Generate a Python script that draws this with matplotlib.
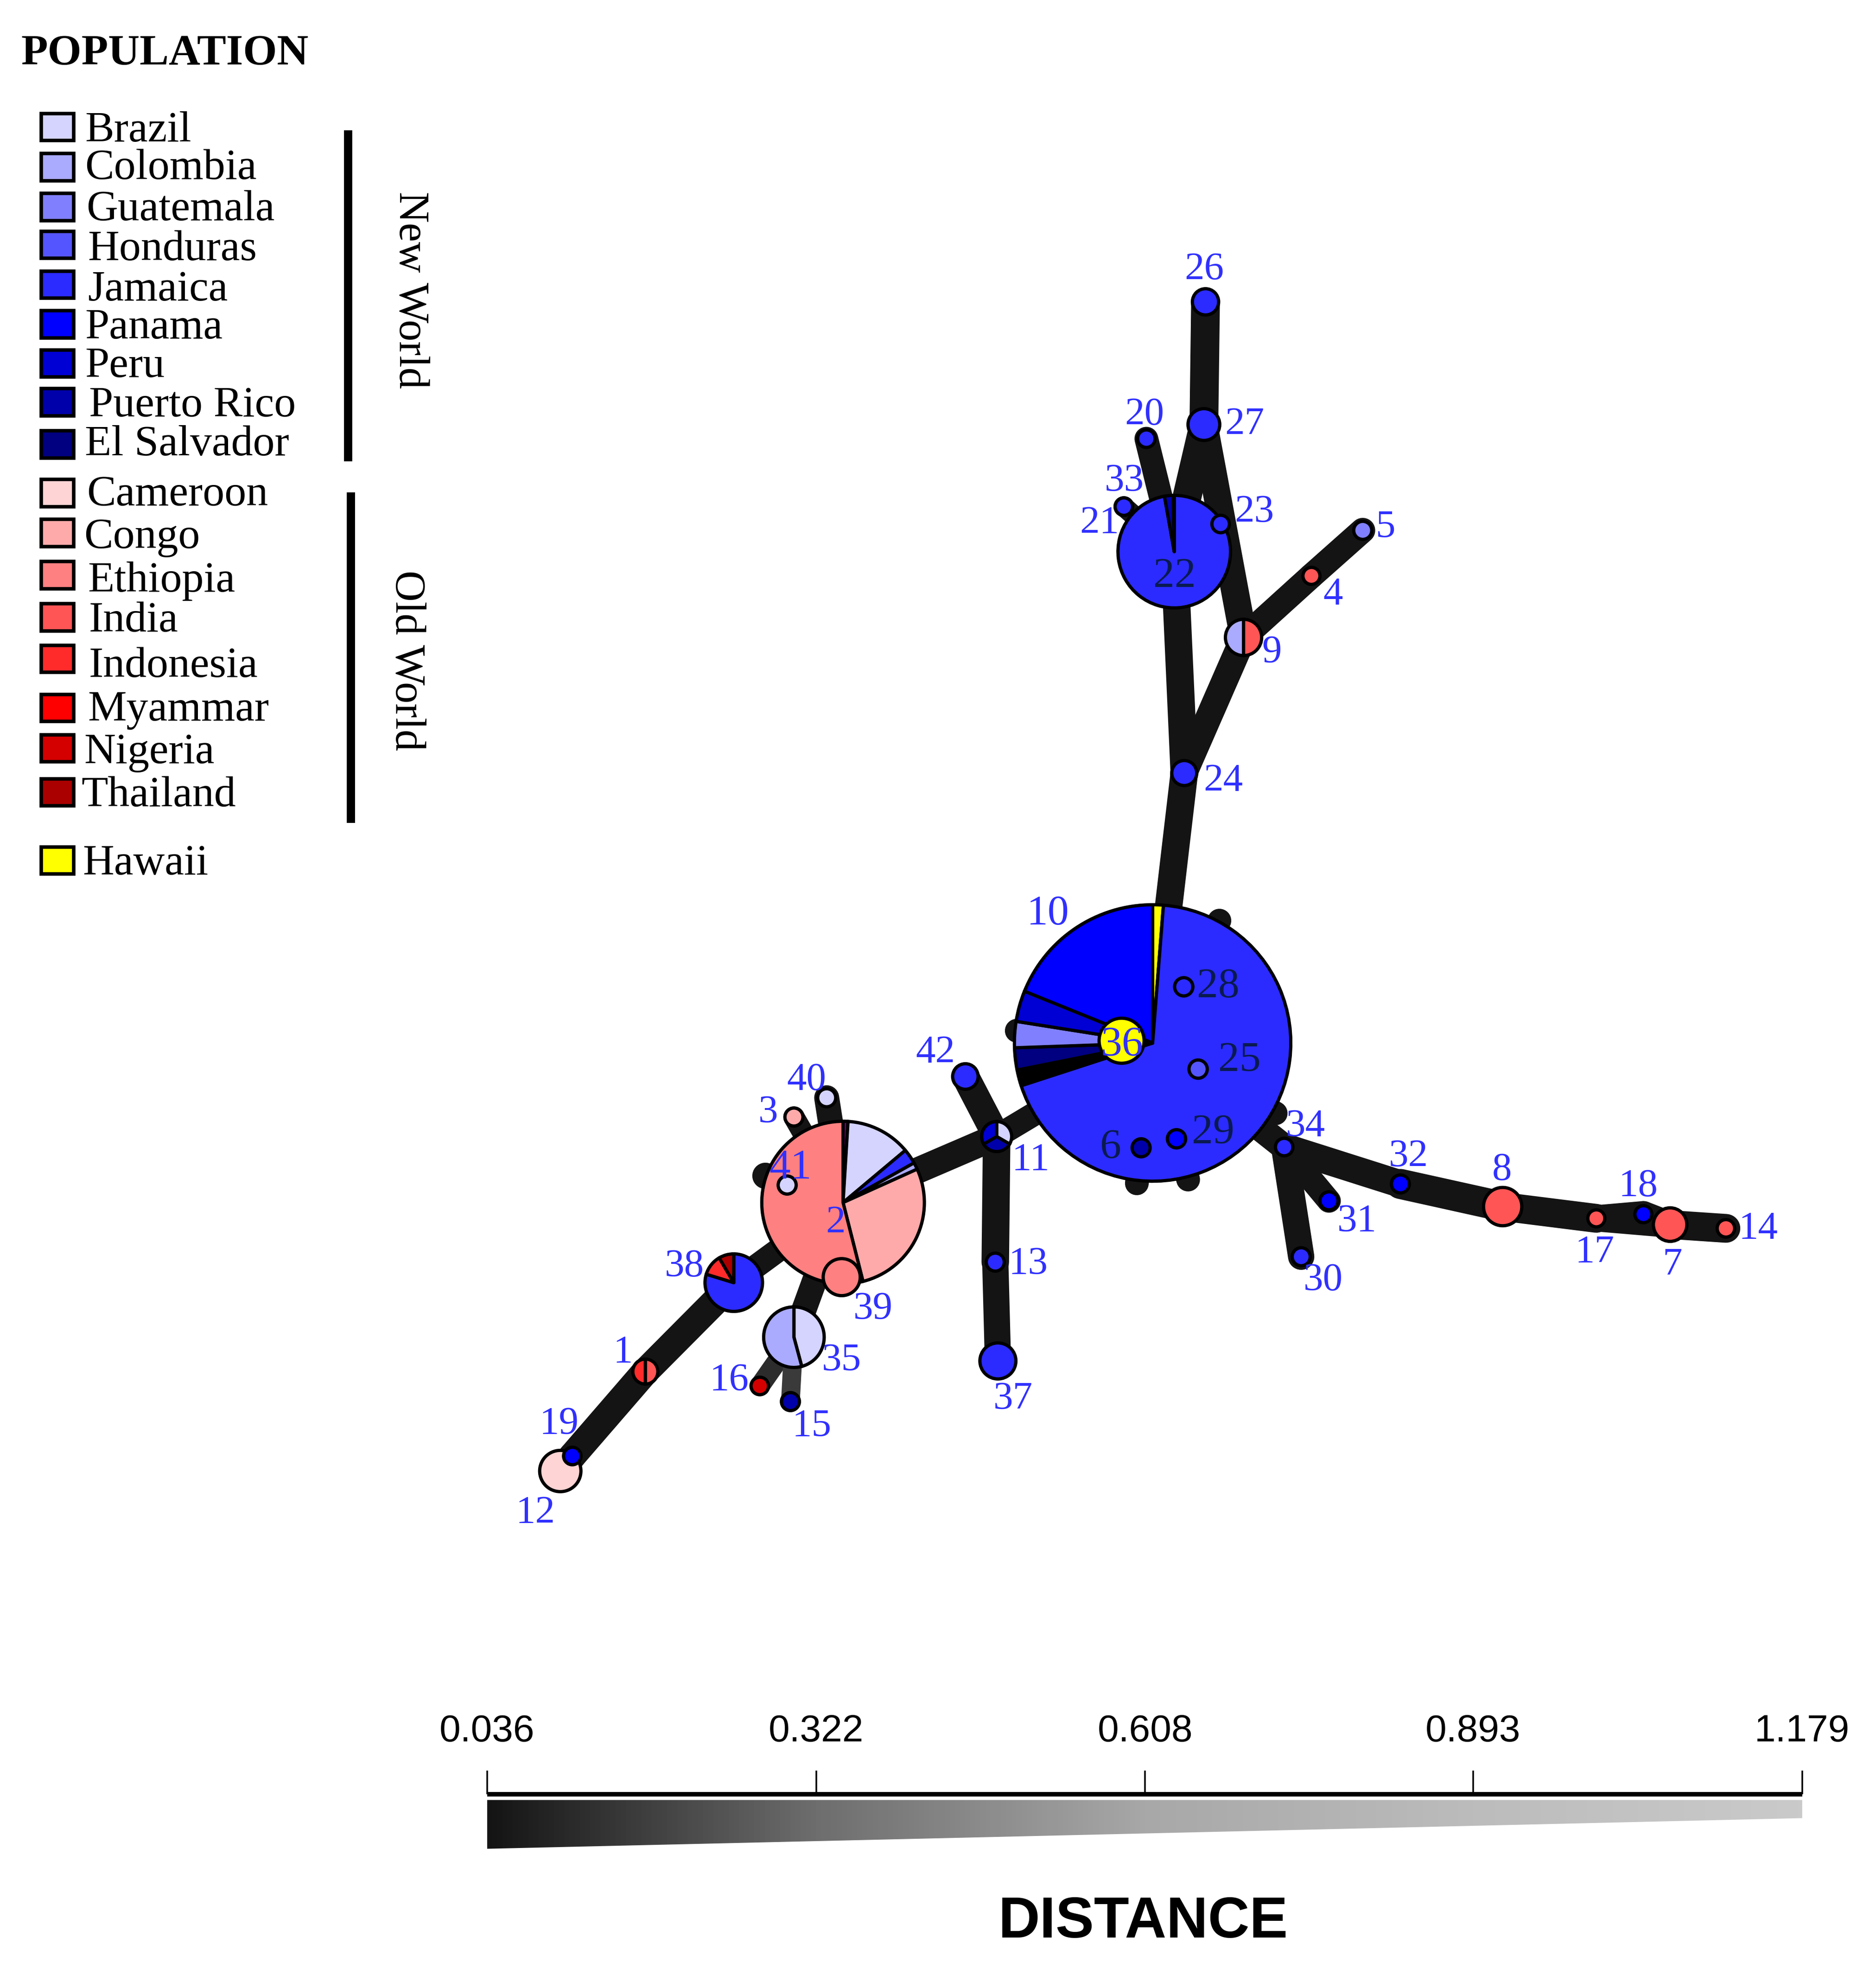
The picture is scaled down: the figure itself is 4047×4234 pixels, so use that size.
import matplotlib
matplotlib.use("Agg")
import numpy as np
import matplotlib.pyplot as plt
from matplotlib.patches import Wedge, Circle, Polygon, Rectangle
from matplotlib.collections import LineCollection
from matplotlib.colors import LinearSegmentedColormap

W, H = 4047, 4234
U = 2.698              # pixels per layout unit
PT = U * 72 / 100      # points per layout unit at dpi 100
SERIF = "Liberation Serif"
SANS = "Liberation Sans"

# ---- legend ----
new_world = ["Brazil", "Colombia", "Guatemala", "Honduras", "Jamaica", "Panama", "Peru", "Puerto Rico", "El Salvador"]
new_colors = ["#d4d4ff", "#aaaaff", "#8080ff", "#5555ff", "#2b2bff", "#0000ff", "#0000d4", "#0000aa", "#000080"]
old_world = ["Cameroon", "Congo", "Ethiopia", "India", "Indonesia", "Myammar", "Nigeria", "Thailand"]
old_colors = ["#ffd4d4", "#ffaaaa", "#ff8080", "#ff5555", "#ff2b2b", "#ff0000", "#d40000", "#aa0000"]
other_world = ["Hawaii"]
other_colors = ["#ffff00"]
legend_names = new_world + old_world + other_world
legend_colors = new_colors + old_colors + other_colors
legend_box_y = [101.6, 133.6, 165.5, 195.7, 227.6, 259.3, 290.7, 321.5, 355.3,
                394.2, 426.1, 459.8, 493.5, 526.7, 566.0, 598.2, 633.4, 687.8]
legend_text_x = [68, 68, 69, 70, 70, 68, 68, 71, 68, 69.5, 67, 70, 71, 71, 70, 67, 65, 66]
legend_text_y = [113, 143, 176, 208, 240, 270.5, 301.5, 333, 364, 404, 438, 473, 505, 541, 576, 610, 644.5, 699]
POP = dict(zip(legend_names, legend_colors))
POP["Mixed"] = "#7a007a"

# ---- haplotype nodes ----
node_id = list(range(1, 43))
node_x = [516, 674.1, 634.8, 1048.6, 1089.6, 912.4, 1335.4, 1201.5, 994.3, 921.6,
          796.9, 448, 795.8, 1380, 632, 607.5, 1276.4, 1314, 457.6, 916.6,
          898.6, 938.9, 976, 946.9, 958, 963.9, 962.6, 946.5, 940.7, 1040.4,
          1062.6, 1119.7, 898.6, 1026.8, 634.8, 896.8, 797.9, 586.7, 673, 661,
          629.4, 771.9]
node_y = [1096.5, 961.4, 893, 460.4, 424, 917.6, 979, 964.6, 509.6, 833.8,
          908.6, 1176, 1009, 982, 1120.5, 1108, 974, 970.7, 1164, 350.7,
          405, 441, 418.9, 618, 854.7, 241.3, 339.4, 788.9, 910.4, 1004.7,
          960, 946.5, 405, 917, 1069, 832, 1088, 1025.4, 1021, 877.6,
          947.4, 860.6]
node_r = [10, 65, 7.2, 6.8, 7.2, 7.2, 13.4, 15.3, 14.5, 110.5,
          12, 16.5, 7.2, 7, 7.2, 7, 6.8, 6.8, 7, 7,
          7, 45, 7, 10, 7.3, 10.5, 12.7, 7.3, 7.3, 7.2,
          7.2, 7.2, 7, 7, 24.2, 18, 14.4, 23, 14.8, 7.2,
          7.2, 10.2]
node_pop = {3: "Congo", 4: "India", 5: "Guatemala", 6: "Puerto Rico", 7: "India", 8: "India",
            12: "Cameroon", 13: "Jamaica", 14: "India", 15: "Puerto Rico", 16: "Nigeria",
            17: "India", 18: "Panama", 19: "Panama", 20: "Jamaica", 21: "Jamaica", 23: "Jamaica",
            24: "Jamaica", 25: "Honduras", 26: "Jamaica", 27: "Jamaica", 28: "Jamaica",
            29: "Panama", 30: "Jamaica", 31: "Panama", 32: "Panama", 33: "Jamaica", 34: "Jamaica",
            36: "Hawaii", 37: "Jamaica", 39: "Ethiopia", 40: "Brazil", 41: "Brazil", 42: "Jamaica"}

# pie nodes: populations clockwise from north and their angular shares (degrees)
pie_1 = (["India", "Indonesia"], [180, 180])
pie_2 = (["Mixed", "Brazil", "Jamaica", "Colombia", "Congo", "Ethiopia"], [3.5, 46.5, 10.8, 4.9, 100.1, 194.2])
pie_9 = (["India", "Colombia"], [180, 180])
pie_10 = (["Hawaii", "Jamaica", "Myammar", "Nigeria", "Indonesia", "Thailand", "Honduras",
           "El Salvador", "Guatemala", "Peru", "Panama"],
          [4.5, 247.5, 1.3, 1.3, 1.4, 1.3, 1.4, 9.3, 11, 13, 68])
pie_11 = (["Brazil", "Puerto Rico", "Peru"], [120, 120, 120])
pie_22 = (["Jamaica", "Puerto Rico", "Colombia"], [350, 9, 1])
pie_35 = (["Brazil", "Colombia"], [165, 195])
pie_38 = (["Jamaica", "Indonesia", "Thailand"], [287, 42.6, 30.4])
node_pies = {1: pie_1, 2: pie_2, 9: pie_9, 10: pie_10, 11: pie_11, 22: pie_22, 35: pie_35, 38: pie_38}

# ---- links: ends, widths, greys. Negative ends are short spurs hidden under the pies ----
spur_x = {-1: 975, -2: 813, -3: 909, -4: 950, -5: 1020, -6: 612}
spur_y = {-1: 736, -2: 824, -3: 946, -4: 943, -5: 890, -6: 940}
edge_a = [26, 27, 27, 20, 21, 22, 24, 9, 4, 24, 10, 2, 11, 11, 13, 2, 38, 1, 19, 2, 2, 2, 35, 35,
          10, 34, 34, 34, 32, 8, 17, 18, 17, 7, 10, 10, 10, 10, 10, 2]
edge_b = [27, 22, 9, 22, 22, 24, 9, 4, 5, 10, 11, 11, 42, 13, 37, 38, 1, 19, 12, 3, 40, 35, 16, 15,
          34, 30, 31, 32, 8, 17, 18, 7, 7, 14, -1, -2, -3, -4, -5, -6]
edge_w = [23, 23, 22, 19, 16, 22, 21, 20, 20, 22, 19, 21, 22, 22, 21, 19, 22, 22, 22, 17, 20, 20, 16, 15,
          21, 21, 19, 22, 24, 23, 21, 21, 21, 23, 19, 19, 19, 19, 19, 21]
edge_c = ["#141414"] * 22 + ["#2c2c2c", "#3a3a3a"] + ["#141414"] * 16

# ---- node numbers: centres, colour group and size ----
label_x = [498, 668, 614, 1066, 1108, 888, 1337, 1201, 1017, 838,
           824, 428, 822, 1406, 649, 583, 1275, 1310, 447, 915,
           879, 939, 1003, 978, 991, 963, 995, 974, 970, 1058,
           1085, 1126, 899, 1044, 673, 897, 810, 547, 698, 645,
           632, 748]
label_y = [1079, 975, 887, 473, 419, 915, 1009, 933, 519, 728,
           925, 1207, 1008, 980, 1138, 1101, 999, 946, 1136, 329,
           416, 458, 407, 622, 845, 213, 337, 786, 903, 1021,
           974, 922, 382, 898, 1085, 833, 1116, 1010, 1044, 861,
           931, 839]
dark_labels = [6, 22, 25, 28, 29]
big_labels = [6, 10, 22, 25, 28, 29, 36, 41]

# ---- distance scale ----
dist_ticks = [0.036, 0.322, 0.608, 0.893, 1.179]
dist_tick_labels = ["0.036", "0.322", "0.608", "0.893", "1.179"]
dist_greys = ["#141414", "#6e6e6e", "#a8a8a8", "#bcbcbc", "#cacaca"]
wedge_top = 1439
wedge_bottom = [1478, 1453.5]

fig = plt.figure(figsize=(W / 100, H / 100), dpi=100, facecolor="white")
ax = fig.add_axes([0, 0, 1, 1])
ax.set_xlim(0, W / U)
ax.set_ylim(H / U, 0)
ax.axis("off")

# links
xy = {i: (x, y) for i, x, y in zip(node_id, node_x, node_y)}
for k in spur_x:
    xy[k] = (spur_x[k], spur_y[k])
segs = [[xy[a], xy[b]] for a, b in zip(edge_a, edge_b)]
ax.add_collection(LineCollection(segs, linewidths=np.array(edge_w) * PT, colors=edge_c,
                                 capstyle="round", joinstyle="round", zorder=1))

# nodes, biggest first so small ones stay visible
OUT = 2.6 * PT
order = sorted(range(len(node_id)), key=lambda i: -node_r[i])
for z, i in enumerate(order):
    nid, x, y, r = node_id[i], node_x[i], node_y[i], node_r[i]
    zo = 2 + z * 0.01
    if nid in node_pies:
        pops, shares = node_pies[nid]
        a0 = 0.0
        for p, s in zip(pops, shares):
            ax.add_patch(Wedge((x, y), r, a0 - 90, a0 + s - 90, facecolor=POP[p], edgecolor="black",
                               linewidth=OUT, joinstyle="round", zorder=zo))
            a0 += s
    else:
        ax.add_patch(Circle((x, y), r, facecolor=POP[node_pop[nid]], edgecolor="black",
                            linewidth=OUT, zorder=zo))

# node numbers
for nid, lx, ly in zip(node_id, label_x, label_y):
    fs = 34 if nid in big_labels else 31.5
    col = "#0a1a50" if nid in dark_labels else "#3030ff"
    ax.text(lx, ly + 0.33 * fs, str(nid), family=SERIF, fontsize=fs * PT, color=col,
            ha="center", va="baseline", zorder=5)

# legend
ax.text(17, 51.5, "POPULATION", family=SERIF, weight="bold", fontsize=34.9 * PT, ha="left", va="baseline")
for name, col, by, tx, ty in zip(legend_names, legend_colors, legend_box_y, legend_text_x, legend_text_y):
    ax.add_patch(Rectangle((33, by - 10.8), 26, 21.6, facecolor=col, edgecolor="black", linewidth=2.8 * PT))
    ax.text(tx, ty, name, family=SERIF, fontsize=34.8 * PT, ha="left", va="baseline")
ax.plot([278.5, 278.5], [104, 368.7], color="black", lw=6.6 * PT, solid_capstyle="butt")
ax.plot([280.6, 280.6], [393.8, 658], color="black", lw=6.6 * PT, solid_capstyle="butt")
ax.text(328, 232, "New World", family=SERIF, fontsize=34.3 * PT, rotation=270, ha="center", va="center")
ax.text(325, 528, "Old World", family=SERIF, fontsize=34.3 * PT, rotation=270, ha="center", va="center")

# distance scale
x0, x1 = 389.4, 1441.0
y_top, y_bot = 1434.5, 1480.0
ax2 = fig.add_axes([x0 * U / W, 1 - y_bot * U / H, (x1 - x0) * U / W, (y_bot - y_top) * U / H])
ax2.patch.set_alpha(0)
cmap = LinearSegmentedColormap.from_list(
    "dist", [((t - dist_ticks[0]) / (dist_ticks[-1] - dist_ticks[0]), g) for t, g in zip(dist_ticks, dist_greys)])
im = ax2.imshow(np.linspace(0, 1, 512)[None, :], cmap=cmap, aspect="auto",
                extent=[dist_ticks[0], dist_ticks[-1], wedge_bottom[0], wedge_top], vmin=0, vmax=1)
clip = Polygon([(dist_ticks[0], wedge_top), (dist_ticks[-1], wedge_top),
                (dist_ticks[-1], wedge_bottom[1]), (dist_ticks[0], wedge_bottom[0])],
               transform=ax2.transData, facecolor="none", edgecolor="none")
ax2.add_patch(clip)
im.set_clip_path(clip)
ax2.set_xlim(dist_ticks[0], dist_ticks[-1])
ax2.set_ylim(y_bot, y_top)
for s in ["left", "right", "bottom"]:
    ax2.spines[s].set_visible(False)
ax2.spines["top"].set_linewidth(3.6 * PT)
ax2.spines["top"].set_capstyle("butt")
ax2.xaxis.tick_top()
ax2.set_xticks(dist_ticks)
ax2.set_xticklabels(dist_tick_labels, family=SANS, fontsize=30.4 * PT)
ax2.tick_params(axis="x", direction="out", length=19 * PT, width=1.3 * PT, pad=33)
ax2.set_yticks([])

ax.text(914, 1549, "DISTANCE", family=SANS, weight="bold", fontsize=46 * PT, ha="center", va="baseline")

fig.savefig("out.png", dpi=100, facecolor="white")
